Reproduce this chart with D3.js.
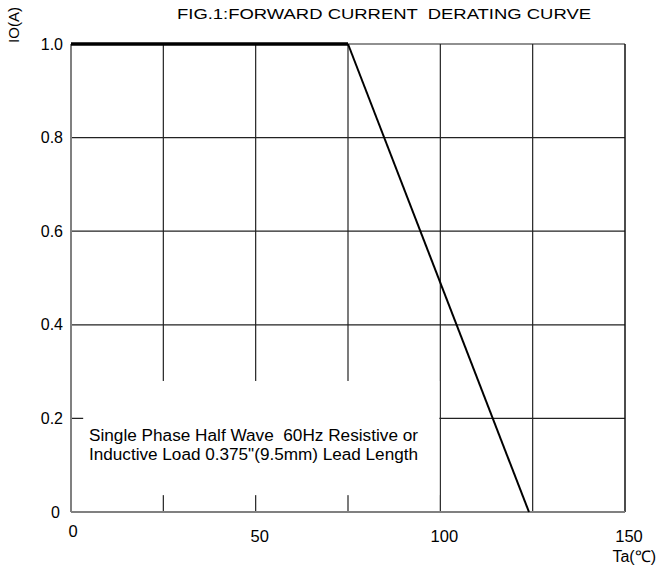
<!DOCTYPE html>
<html>
<head>
<meta charset="utf-8">
<script src="https://cdn.jsdelivr.net/npm/d3@7"></script>
<style>
  body { margin: 0; background: #fff; }
  svg { display: block; font-family: "Liberation Sans", Arial, sans-serif; }
</style>
</head>
<body>
<div id="chart"></div>
<script>
// derating curve: ambient temperature (C) vs average forward current (A)
const tempC = [0, 75, 124];
const currentA = [1.0, 1.0, 0];

const xTickLabels = [0, 50, 100, 150];
const xGrid = [25, 50, 75, 100, 125];
const yTicks = [0, 0.2, 0.4, 0.6, 0.8, 1.0];

const noteLines = [
  'Single Phase Half Wave  60Hz Resistive or',
  'Inductive Load 0.375"(9.5mm) Lead Length'
];

const W = 657, H = 571;
const margin = { top: 44, right: 32, bottom: 59, left: 71 };
const w = W - margin.left - margin.right,
      h = H - margin.top - margin.bottom;

const svg = d3.select('#chart').append('svg')
  .attr('width', W).attr('height', H);

const g = svg.append('g')
  .attr('transform', `translate(${margin.left},${margin.top})`);

const x = d3.scaleLinear().domain([0, 150]).range([0, w]);
const y = d3.scaleLinear().domain([0, 1.0]).range([h, 0]);

// grid
g.append('g').selectAll('line')
  .data(xGrid).enter().append('line')
  .attr('x1', d => x(d)).attr('x2', d => x(d))
  .attr('y1', 0).attr('y2', h)
  .attr('stroke', '#222').attr('stroke-width', 1.2);

g.append('g').selectAll('line')
  .data(yTicks.filter(d => d > 0)).enter().append('line')
  .attr('x1', 0).attr('x2', w)
  .attr('y1', d => y(d)).attr('y2', d => y(d))
  .attr('stroke', '#222').attr('stroke-width', 1.2);

// right border
g.append('line')
  .attr('x1', w).attr('x2', w).attr('y1', 0).attr('y2', h)
  .attr('stroke', '#111').attr('stroke-width', 1.5);

// blank area behind the note
g.append('rect')
  .attr('x', x(3.3)).attr('width', x(100) - x(3.3) - 1)
  .attr('y', y(0.28)).attr('height', y(0.036) - y(0.28))
  .attr('fill', '#fff');

// axes
g.append('line')
  .attr('x1', 0).attr('x2', 0).attr('y1', 0).attr('y2', h)
  .attr('stroke', '#808080').attr('stroke-width', 2);
g.append('line')
  .attr('x1', 0).attr('x2', w).attr('y1', h).attr('y2', h)
  .attr('stroke', '#808080').attr('stroke-width', 2);

// curve
const pts = tempC.map((t, i) => [t, currentA[i]]);
const line = d3.line().x(d => x(d[0])).y(d => y(d[1]));
g.append('path')
  .datum(pts.slice(0, 2))
  .attr('d', line)
  .attr('fill', 'none').attr('stroke', '#000').attr('stroke-width', 3.5);
g.append('path')
  .datum(pts.slice(1))
  .attr('d', line)
  .attr('fill', 'none').attr('stroke', '#000').attr('stroke-width', 2);

// tick labels
g.append('g').selectAll('text')
  .data(yTicks).enter().append('text')
  .attr('x', d => d === 0 ? -11 : -8).attr('y', d => y(d))
  .attr('dy', '0.35em')
  .attr('text-anchor', 'end')
  .attr('font-size', 16)
  .text(d => d === 0 ? '0' : d3.format('.1f')(d));

g.append('g').selectAll('text')
  .data(xTickLabels).enter().append('text')
  .attr('x', d => x(d) + (d === 0 ? 2 : 4))
  .attr('y', d => h + (d === 0 ? 25 : 30))
  .attr('text-anchor', 'middle')
  .attr('font-size', 16.5)
  .text(d => d);

// axis titles
svg.append('text')
  .attr('transform', 'translate(19,25) rotate(-90)')
  .attr('text-anchor', 'middle')
  .attr('font-size', 15)
  .text('IO(A)');

svg.append('text')
  .attr('x', 656).attr('y', 562)
  .attr('text-anchor', 'end')
  .attr('font-size', 16)
  .text('Ta(\u2103)');

svg.append('text')
  .attr('x', 384).attr('y', 19)
  .attr('text-anchor', 'middle')
  .attr('font-size', 14)
  .attr('textLength', 414)
  .attr('lengthAdjust', 'spacingAndGlyphs')
  .style('white-space', 'pre')
  .text('FIG.1:FORWARD CURRENT  DERATING CURVE');

// note
g.append('g').selectAll('text')
  .data(noteLines).enter().append('text')
  .attr('x', 253.5 - margin.left).attr('y', (d, i) => 397 + i * 19)
  .attr('text-anchor', 'middle')
  .attr('font-size', 16)
  .attr('textLength', 329)
  .attr('lengthAdjust', 'spacingAndGlyphs')
  .style('white-space', 'pre')
  .text(d => d);
</script>
</body>
</html>
